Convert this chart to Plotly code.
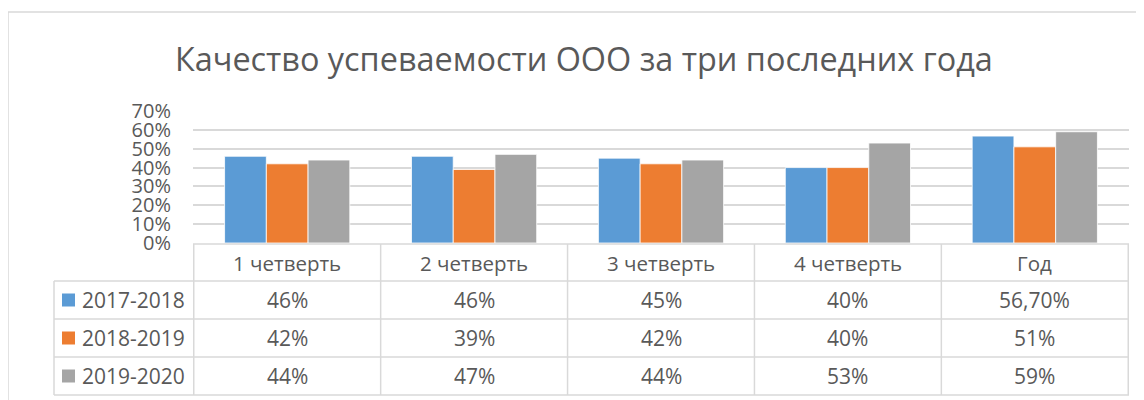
import plotly.graph_objects as go

categories = ["1 четверть", "2 четверть", "3 четверть", "4 четверть", "Год"]
series_names = ["2017-2018", "2018-2019", "2019-2020"]
values_2017 = [0.46, 0.46, 0.45, 0.40, 0.567]
values_2018 = [0.42, 0.39, 0.42, 0.40, 0.51]
values_2019 = [0.44, 0.47, 0.44, 0.53, 0.59]
table_2017 = ["46%", "46%", "45%", "40%", "56,70%"]
table_2018 = ["42%", "39%", "42%", "40%", "51%"]
table_2019 = ["44%", "47%", "44%", "53%", "59%"]
colors = ["#5B9BD5", "#ED7D31", "#A5A5A5"]
title_text = "Качество успеваемости ООО за три последних года"

OFF = 8  # page body margin
W, H = 1144 - OFF, 400 - OFF
# reference pixel coordinates of the plot area
RL, RR, RT, RB = 193, 1129, 111, 243
PW, PH = RR - RL, RB - RT
GRID = "#D9D9D9"
TXT = "#595959"
FONT = "Open Sans"


def px(xp):
    return (xp - RL) / PW


def py(yp):
    return (RB - yp) / PH


fig = go.Figure()
for name, vals, col in zip(series_names, [values_2017, values_2018, values_2019], colors):
    fig.add_trace(go.Bar(x=categories, y=vals, name=name,
                         marker=dict(color=col, line=dict(color="white", width=0.8)),
                         showlegend=False))

shapes = []
annotations = []

# outer chart border
shapes.append(dict(type="rect", xref="paper", yref="paper",
                   x0=px(8), x1=px(1170), y0=py(12), y1=py(430),
                   line=dict(color=GRID, width=1.5), layer="below"))

row_edges = [244, 281, 319, 357, 395]
shapes.append(dict(type="line", xref="paper", yref="paper", x0=0, x1=1,
                   y0=py(row_edges[0]), y1=py(row_edges[0]), line=dict(color=GRID, width=1.5)))
for ye in row_edges[1:]:
    shapes.append(dict(type="line", xref="paper", yref="paper", x0=px(54), x1=1,
                       y0=py(ye), y1=py(ye), line=dict(color=GRID, width=1.5)))
n = len(categories)
for i in range(n + 1):
    shapes.append(dict(type="line", xref="x", yref="paper", x0=i - 0.5, x1=i - 0.5,
                       y0=py(row_edges[0]), y1=py(row_edges[-1]), line=dict(color=GRID, width=1.5)))
shapes.append(dict(type="line", xref="paper", yref="paper", x0=px(54), x1=px(54),
                   y0=py(row_edges[1]), y1=py(row_edges[-1]), line=dict(color=GRID, width=1.5)))

hc = (row_edges[0] + row_edges[1]) / 2
for c in categories:
    annotations.append(dict(x=c, y=py(hc), xref="x", yref="paper", text=c, showarrow=False,
                            xanchor="center", yanchor="middle",
                            font=dict(family=FONT, size=20.5, color=TXT)))

tables = [table_2017, table_2018, table_2019]
for r, (name, col, tv) in enumerate(zip(series_names, colors, tables)):
    yc = (row_edges[r + 1] + row_edges[r + 2]) / 2
    shapes.append(dict(type="rect", xref="paper", yref="paper", x0=px(62), x1=px(75),
                       y0=py(yc - 6.5), y1=py(yc + 6.5), fillcolor=col, line=dict(width=0)))
    annotations.append(dict(x=px(80), y=py(yc), xref="paper", yref="paper", text=name,
                            showarrow=False, xanchor="left", yanchor="middle",
                            font=dict(family=FONT, size=21, color=TXT)))
    for c, t in zip(categories, tv):
        annotations.append(dict(x=c, y=py(yc), xref="x", yref="paper", text=t, showarrow=False,
                                xanchor="center", yanchor="middle",
                                font=dict(family=FONT, size=21, color=TXT)))

annotations.append(dict(x=px(584), y=py(58), xref="paper", yref="paper", text=title_text,
                        showarrow=False, xanchor="center", yanchor="middle",
                        font=dict(family=FONT, size=32.4, color=TXT)))

fig.update_layout(
    width=W, height=H,
    margin=dict(l=RL - OFF, r=W - (RR - OFF), t=RT - OFF, b=H - (RB - OFF), pad=0),
    paper_bgcolor="white", plot_bgcolor="white",
    barmode="group", bargap=0.33, bargroupgap=0,
    shapes=shapes, annotations=annotations,
    xaxis=dict(showticklabels=False, showgrid=False, zeroline=False, showline=False, ticks=""),
    yaxis=dict(range=[0, 0.7], tickvals=[0, 0.1, 0.2, 0.3, 0.4, 0.5, 0.6, 0.7], tickformat=".0%",
               showgrid=True, gridcolor=GRID, gridwidth=1.5, zeroline=False, showline=False,
               ticks="", ticklabelstandoff=21,
               tickfont=dict(family=FONT, size=20, color=TXT)),
)

fig.write_html("out.html")
